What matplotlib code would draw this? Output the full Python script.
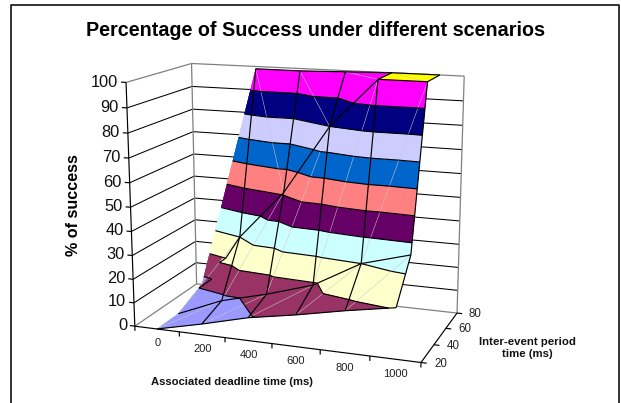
import numpy as np
import matplotlib
matplotlib.use('Agg')
import matplotlib.pyplot as plt
from mpl_toolkits.mplot3d import proj3d
from mpl_toolkits.mplot3d.art3d import Poly3DCollection, Line3DCollection

plt.rcParams['font.family'] = ['Liberation Sans', 'DejaVu Sans']

deadlines = [0, 200, 400, 600, 800, 1000]
periods = [20, 40, 60, 80]
# success percentage, one row per inter-event period
success_20 = [0, 4.5, 9.5, 13, 17, 20.5]
success_40 = [0, 8, 13, 19, 30, 35.5]
success_60 = [0, 30, 51, 80, 100, 100]
success_80 = [0, 99, 99, 99.5, 100, 100]
z_ticks = [0, 10, 20, 30, 40, 50, 60, 70, 80, 90, 100]
band_colors = ['#9999FF', '#993366', '#FFFFCC', '#CCFFFF', '#660066', '#FF8080',
               '#0066CC', '#CCCCFF', '#000080', '#FF00FF', '#FFFF00']

title = 'Percentage of Success under different scenarios'
x_title = 'Associated deadline time (ms)'
y_title = 'Inter-event period\ntime (ms)'
z_title = '% of success'

W, H = 621, 403
x_lo, x_hi = -100, 1100
y_lo, y_hi = 20, 80
z_lo, z_hi = 0, 100

fig = plt.figure(figsize=(W / 100, H / 100), dpi=100)
side = 402
ax = fig.add_axes([91.6 / W, -5.7 / H, side / W, side / H], projection='3d')
ax.view_init(elev=13.83, azim=-69.93, roll=0.13)
ax.set_proj_type('persp', focal_length=0.564)
ax.set_box_aspect((1.2, 0.603, 1))
ax.set_xlim(x_lo, x_hi)
ax.set_ylim(y_lo, y_hi)
ax.set_zlim(z_lo, z_hi)
ax.set_axis_off()
ax.patch.set_alpha(0)
ax.computed_zorder = False

X = np.array(deadlines, float)
Y = np.array(periods, float)
Z = np.array([success_20, success_40, success_60, success_80], float)


def clip_z(poly, level, keep_above):
    # Sutherland-Hodgman against one horizontal plane
    out = []
    for a, b in zip(poly, poly[1:] + poly[:1]):
        a_in = a[2] >= level if keep_above else a[2] <= level
        b_in = b[2] >= level if keep_above else b[2] <= level
        if a_in:
            out.append(a)
        if a_in != b_in:
            t = (level - a[2]) / (b[2] - a[2])
            out.append(tuple(np.array(a) + t * (np.array(b) - np.array(a))))
    return out


def cell_triangles(i, j):
    p00 = (X[i], Y[j], Z[j, i])
    p10 = (X[i + 1], Y[j], Z[j, i + 1])
    p01 = (X[i], Y[j + 1], Z[j + 1, i])
    p11 = (X[i + 1], Y[j + 1], Z[j + 1, i + 1])
    if j == len(Y) - 2 and i > 0:
        return [(p01, p00, p10), (p01, p10, p11)], (p01, p10)
    return [(p00, p10, p11), (p00, p11, p01)], (p00, p11)


polys, face_cols, contours, diagonals = [], [], [], []
for j in range(len(Y) - 1):
    for i in range(len(X) - 1):
        tris, diag = cell_triangles(i, j)
        if not (j == len(Y) - 2 and i == 0):
            diagonals.append(diag)
        for n, tri in enumerate(tris):
            for k, col in enumerate(band_colors):
                lo, hi = 10.0 * k, 10.0 * (k + 1)
                piece = clip_z(clip_z(list(tri), lo, True), hi, False)
                if len(piece) < 3 or min(p[2] for p in piece) >= hi:
                    continue
                polys.append(piece)
                face_cols.append(col)
            # the far triangle of the first top cell sits behind the near one
            if j == len(Y) - 2 and i == 0 and n == 1:
                continue
            # band outlines
            for level in np.arange(10.0, 101.0, 10.0):
                crossing = []
                for a, b in zip(tri, tri[1:] + tri[:1]):
                    if (a[2] - level) * (b[2] - level) < 0:
                        t = (level - a[2]) / (b[2] - a[2])
                        crossing.append(np.array(a) + t * (np.array(b) - np.array(a)))
                    elif a[2] == level and b[2] != level:
                        crossing.append(np.array(a))
                if len(crossing) == 2:
                    contours.append(crossing)

surface = Poly3DCollection(polys, facecolors=face_cols, edgecolors=face_cols, linewidths=0.3, zorder=3)
ax.add_collection3d(surface)
ax.add_collection3d(Line3DCollection(diagonals, colors='#c8c8c8', linewidths=0.35, zorder=4))

# mesh lines, the first deadline column stays unoutlined
mesh = []
for i in range(1, len(X)):
    for j in range(len(Y) - 1):
        mesh.append([(X[i], Y[j], Z[j, i]), (X[i], Y[j + 1], Z[j + 1, i])])
for j in range(len(Y)):
    for i in range(len(X) - 1):
        if j == 3 and i == 0:
            continue
        start = (X[i], Y[j], Z[j, i])
        if j == 2 and i == 0:
            # below the 20% band this stretch is covered by the surface
            start = (X[i + 1] * 20 / Z[j, i + 1], Y[j], 20)
        mesh.append([start, (X[i + 1], Y[j], Z[j, i + 1])])
ax.add_collection3d(Line3DCollection(mesh + contours, colors='black', linewidths=0.85, zorder=5))

# back and side walls
grid_segs = []
for z in z_ticks[1:-1]:
    grid_segs.append([(x_lo, y_lo, z), (x_lo, y_hi, z)])
    grid_segs.append([(x_lo, y_hi, z), (x_hi, y_hi, z)])
ax.add_collection3d(Line3DCollection(grid_segs, colors='black', linewidths=0.75, zorder=1))
edge_segs = [
    [(x_lo, y_lo, z_lo), (x_lo, y_hi, z_lo)], [(x_lo, y_hi, z_lo), (x_hi, y_hi, z_lo)],
    [(x_lo, y_hi, z_lo), (x_lo, y_hi, z_hi)], [(x_hi, y_hi, z_lo), (x_hi, y_hi, z_hi)],
    [(x_lo, y_lo, z_hi), (x_lo, y_hi, z_hi)], [(x_lo, y_hi, z_hi), (x_hi, y_hi, z_hi)],
]
ax.add_collection3d(Line3DCollection(edge_segs, colors='#808080', linewidths=0.9, zorder=2))

# axis lines and tick marks
axis_segs = [
    [(x_lo, y_lo, z_lo), (x_lo, y_lo, z_hi)],
    [(x_lo, y_lo, z_lo), (x_hi, y_lo, z_lo)],
    [(x_hi, y_lo, z_lo), (x_hi, y_hi, z_lo)],
]
for z in z_ticks:
    axis_segs.append([(x_lo, y_lo, z), (x_lo - 22, y_lo, z)])
for x in np.arange(x_lo, x_hi + 1, 200):
    axis_segs.append([(x, y_lo, 0), (x, y_lo, -2)])
for y in periods:
    axis_segs.append([(x_hi, y, 0), (x_hi + 22, y, 0)])
ax.add_collection3d(Line3DCollection(axis_segs, colors='black', linewidths=0.85, zorder=6))


def label(x, y, z, text, **kwargs):
    # tick labels follow the projected axis position
    px, py, _ = proj3d.proj_transform(x, y, z, ax.get_proj())
    ax.text2D(px, py, text, transform=ax.transData, va='center', **kwargs)


for z in z_ticks:
    label(x_lo - 35, y_lo, z, str(z), ha='right', fontsize=11.8, color='#111111')
for x in deadlines:
    label(x, y_lo, -6, str(x), ha='center', fontsize=8, color='#222222')
for y in periods:
    label(x_hi + 78, y, 0.5, str(y), ha='center', fontsize=8.3, color='#222222')

fig.text(315.5 / W, 1 - 31 / H, title, ha='center', va='center', fontsize=14.2, fontweight='bold')
fig.text(232 / W, 1 - 382 / H, x_title, ha='center', va='center', fontsize=8.15, fontweight='bold', color='#111111')
fig.text(527 / W, 1 - 348 / H, y_title, ha='center', va='center', fontsize=8.2, fontweight='bold',
         color='#111111', linespacing=1.3)
fig.text(73 / W, 1 - 205.5 / H, z_title, ha='center', va='center', rotation=90, fontsize=11.6, fontweight='bold')

# chart frame, open at the bottom
frame_x = [10.5 / W, 10.5 / W, 619 / W, 619 / W]
frame_y = [0, 1 - 4.5 / H, 1 - 4.5 / H, 0]
fig.add_artist(plt.Line2D(frame_x, frame_y, color='#111111', linewidth=1.2))

fig.savefig('out.png', dpi=100)
